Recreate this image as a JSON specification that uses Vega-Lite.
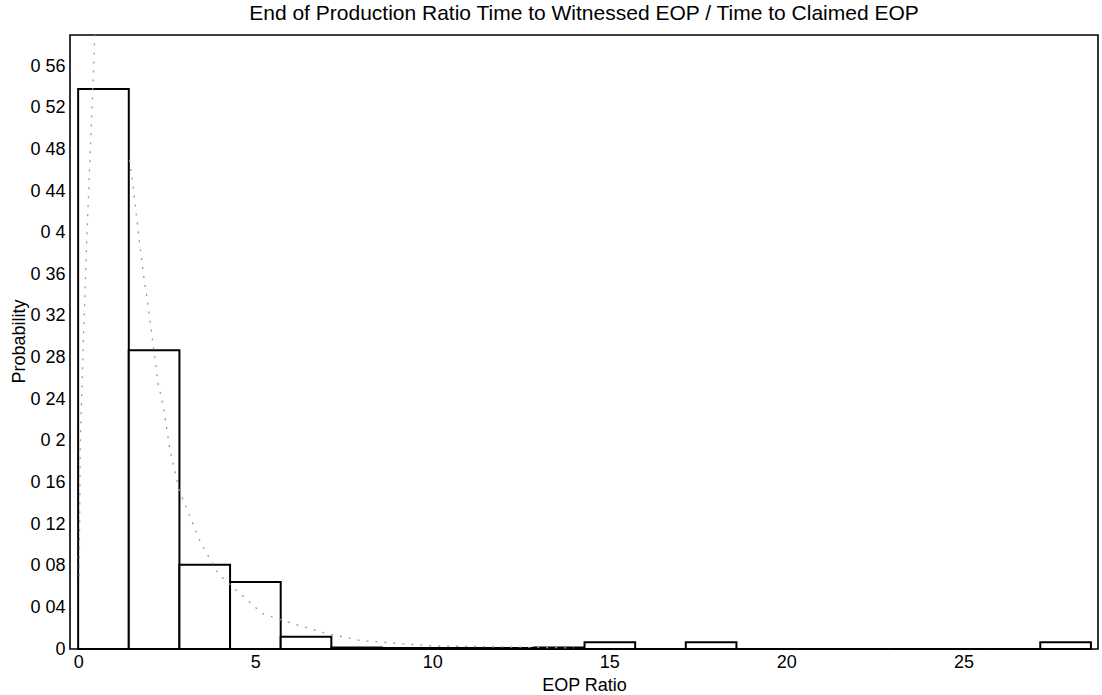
{
  "$schema": "https://vega.github.io/schema/vega-lite/v6.json",
  "width": 1028,
  "height": 614,
  "autosize": "none",
  "padding": {"left": 70, "top": 35, "right": 4, "bottom": 46},
  "background": "white",
  "config": {
    "view": {"stroke": "black", "strokeWidth": 1.6},
    "font": "Liberation Sans"
  },
  "title": {
    "text": "End of Production Ratio  Time to Witnessed EOP / Time to Claimed EOP",
    "fontSize": 21,
    "fontWeight": "normal",
    "color": "black",
    "anchor": "middle",
    "offset": 11
  },
  "layer": [
    {
      "data": {
        "values": [
          {"x0": 0, "x1": 1.43, "p": 0.538},
          {"x0": 1.43, "x1": 2.86, "p": 0.287},
          {"x0": 2.86, "x1": 4.29, "p": 0.081},
          {"x0": 4.29, "x1": 5.72, "p": 0.0645},
          {"x0": 5.72, "x1": 7.15, "p": 0.0118},
          {"x0": 7.15, "x1": 8.58, "p": 0.0015},
          {"x0": 8.58, "x1": 10.01, "p": 0.001},
          {"x0": 10.01, "x1": 11.44, "p": 0.001},
          {"x0": 11.44, "x1": 12.87, "p": 0.001},
          {"x0": 12.87, "x1": 14.3, "p": 0.0015},
          {"x0": 14.3, "x1": 15.73, "p": 0.0065},
          {"x0": 15.73, "x1": 17.16, "p": 0},
          {"x0": 17.16, "x1": 18.59, "p": 0.0065},
          {"x0": 18.59, "x1": 20.02, "p": 0},
          {"x0": 20.02, "x1": 21.45, "p": 0},
          {"x0": 21.45, "x1": 22.88, "p": 0},
          {"x0": 22.88, "x1": 24.31, "p": 0},
          {"x0": 24.31, "x1": 25.74, "p": 0},
          {"x0": 25.74, "x1": 27.17, "p": 0},
          {"x0": 27.17, "x1": 28.6, "p": 0.0065}
        ]
      },
      "mark": {"type": "rect", "fill": "white", "stroke": "black", "strokeWidth": 2},
      "encoding": {
        "x": {
          "field": "x0",
          "type": "quantitative",
          "scale": {"domain": [-0.23, 28.8], "nice": false, "zero": false},
          "axis": {
            "values": [0, 5, 10, 15, 20, 25],
            "title": "EOP Ratio",
            "titleFontSize": 18,
            "titleFontWeight": "normal",
            "titleColor": "black",
            "titleY": 36,
            "titleBaseline": "middle",
            "labelFontSize": 18,
            "labelColor": "black",
            "labelPadding": 4,
            "ticks": false,
            "domain": false,
            "grid": false
          }
        },
        "x2": {"field": "x1"},
        "y": {
          "field": "p",
          "type": "quantitative",
          "scale": {"domain": [0, 0.59], "nice": false},
          "axis": {
            "values": [0, 0.04, 0.08, 0.12, 0.16, 0.2, 0.24, 0.28, 0.32, 0.36, 0.4, 0.44, 0.48, 0.52, 0.56],
            "labelExpr": "replace(format(datum.value, '.2~f'), '.', ' ')",
            "title": "Probability",
            "titleFontSize": 18,
            "titleFontWeight": "normal",
            "titleColor": "black",
            "titleX": -51,
            "titleY": 306,
            "titleAlign": "center",
            "titleBaseline": "middle",
            "labelFontSize": 18,
            "labelColor": "black",
            "labelPadding": 5,
            "ticks": false,
            "domain": false,
            "grid": false
          }
        },
        "y2": {"datum": 0}
      }
    },
    {
      "data": {
        "values": [
          {"seg": "a", "x": 0.03, "y": 0.07},
          {"seg": "a", "x": 0.06, "y": 0.2},
          {"seg": "a", "x": 0.17, "y": 0.32},
          {"seg": "a", "x": 0.25, "y": 0.4},
          {"seg": "a", "x": 0.31, "y": 0.45},
          {"seg": "a", "x": 0.45, "y": 0.57},
          {"seg": "a", "x": 0.5, "y": 0.62},
          {"seg": "b", "x": 1.45, "y": 0.47},
          {"seg": "b", "x": 1.52, "y": 0.454},
          {"seg": "b", "x": 1.7, "y": 0.4},
          {"seg": "b", "x": 1.86, "y": 0.356},
          {"seg": "b", "x": 1.95, "y": 0.336},
          {"seg": "b", "x": 2.26, "y": 0.255},
          {"seg": "b", "x": 2.4, "y": 0.234},
          {"seg": "b", "x": 2.6, "y": 0.19},
          {"seg": "b", "x": 2.86, "y": 0.152},
          {"seg": "b", "x": 3.1, "y": 0.132},
          {"seg": "b", "x": 3.45, "y": 0.103},
          {"seg": "b", "x": 3.8, "y": 0.082},
          {"seg": "b", "x": 3.96, "y": 0.072},
          {"seg": "b", "x": 5.2, "y": 0.034},
          {"seg": "b", "x": 6.1, "y": 0.024},
          {"seg": "b", "x": 7.0, "y": 0.015},
          {"seg": "b", "x": 8.0, "y": 0.008},
          {"seg": "b", "x": 10.0, "y": 0.003},
          {"seg": "b", "x": 14.0, "y": 0.001}
        ]
      },
      "mark": {"type": "line", "stroke": "#9a9a9a", "strokeWidth": 1.3, "strokeDash": [2, 7], "clip": true},
      "encoding": {
        "x": {"field": "x", "type": "quantitative"},
        "y": {"field": "y", "type": "quantitative"},
        "detail": {"field": "seg"}
      }
    }
  ]
}
